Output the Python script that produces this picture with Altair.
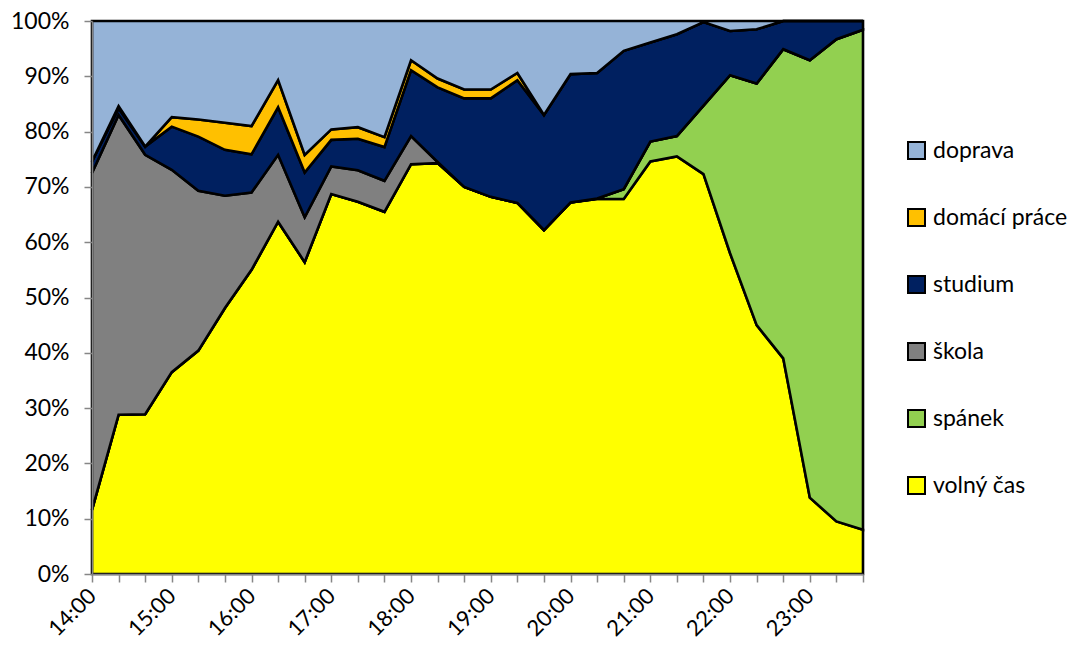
import altair as alt
import pandas as pd

times = ["14:00", "14:20", "14:40", "15:00", "15:20", "15:40", "16:00", "16:20", "16:40",
         "17:00", "17:20", "17:40", "18:00", "18:20", "18:40", "19:00", "19:20", "19:40",
         "20:00", "20:20", "20:40", "21:00", "21:20", "21:40", "22:00", "22:20", "22:40",
         "23:00", "23:20", "23:40"]

volny_cas = [11.6, 28.8, 28.9, 36.5, 40.4, 48.1, 55.0, 63.7, 56.4, 68.7, 67.3, 65.5, 74.1, 74.3, 70.0,
             68.2, 67.1, 62.2, 67.2, 67.8, 67.8, 74.6, 75.5, 72.3, 58.0, 45.0, 39.0, 13.8, 9.5, 8.0]
spanek = [0, 0, 0, 0, 0, 0, 0, 0, 0, 0, 0, 0, 0, 0, 0,
          0, 0, 0, 0, 0.1, 1.8, 3.6, 3.7, 12.4, 32.2, 43.7, 55.9, 79.1, 87.2, 90.4]
skola = [60.9, 54.2, 46.9, 36.6, 28.9, 20.3, 14.0, 12.1, 8.1, 5.0, 5.7, 5.6, 5.1, 0.2, 0,
         0, 0, 0, 0, 0, 0, 0, 0, 0, 0, 0, 0, 0, 0, 0]
studium = [2.1, 1.2, 1.5, 7.8, 9.8, 8.3, 6.9, 8.6, 8.1, 4.8, 5.7, 6.1, 11.9, 13.5, 16.0,
           17.8, 22.2, 20.8, 23.2, 22.7, 25.0, 17.9, 18.4, 15.1, 8.0, 9.8, 5.1, 7.1, 3.3, 1.6]
domaci_prace = [0, 0.4, 0, 1.7, 3.1, 4.9, 5.1, 4.9, 3.2, 1.9, 2.1, 1.8, 1.8, 1.6, 1.6,
                1.6, 1.3, 0, 0, 0, 0, 0, 0, 0, 0, 0, 0, 0, 0, 0]
doprava = [25.4, 15.4, 22.7, 17.4, 17.8, 18.4, 19.0, 10.7, 24.2, 19.6, 19.2, 21.0, 7.1, 10.4, 12.4,
           12.4, 9.4, 17.0, 9.6, 9.4, 5.4, 3.9, 2.4, 0.2, 1.8, 1.5, 0, 0, 0, 0]

series_names = ["volný čas", "spánek", "škola", "studium", "domácí práce", "doprava"]
series_values = [volny_cas, spanek, skola, studium, domaci_prace, doprava]
series_colors = ["#FFFF00", "#92D050", "#808080", "#002060", "#FFC000", "#95B3D7"]

rows = []
for k, (name, vals) in enumerate(zip(series_names, series_values)):
    for t, v in zip(times, vals):
        rows.append({"cas": t, "kategorie": name, "podil": v, "poradi": k})
df = pd.DataFrame(rows)

legend_order = list(reversed(series_names))
legend_colors = list(reversed(series_colors))

FONT = "Lato"

chart = alt.Chart(df).mark_area(
    stroke="black", strokeWidth=2.6, strokeJoin="miter"
).encode(
    x=alt.X("cas:O", sort=times, scale=alt.Scale(padding=0),
            axis=alt.Axis(title=None, labelAngle=-45,
                          labelExpr="slice(datum.label, -2) == '00' ? datum.label : ''",
                          labelFontSize=22, labelFont=FONT, labelColor="black",
                          tickSize=8, tickColor="#868686", domainColor="#868686",
                          domainWidth=1.5, tickWidth=1.5, labelPadding=3, labelOffset=-7,
                          labelAlign="right", labelBaseline="top", zindex=1,
                          grid=False)),
    y=alt.Y("podil:Q", stack="normalize",
            scale=alt.Scale(domain=[0, 1], nice=False),
            axis=alt.Axis(title=None, format=".0%", values=[i / 10 for i in range(11)],
                          labelFontSize=23, labelFont=FONT, labelColor="black",
                          tickSize=8, tickColor="#868686", domainColor="#868686",
                          domainWidth=1.5, tickWidth=1.5, labelPadding=15, zindex=1,
                          grid=False)),
    color=alt.Color("kategorie:N",
                    scale=alt.Scale(domain=legend_order, range=legend_colors),
                    legend=alt.Legend(title=None, orient="none", legendX=813, legendY=118,
                                      symbolType="square", symbolSize=289,
                                      symbolStrokeColor="black", symbolStrokeWidth=2,
                                      symbolOpacity=1,
                                      labelFontSize=23, labelFont=FONT, labelColor="black",
                                      labelOffset=5, rowPadding=42, labelLimit=200)),
    order=alt.Order("poradi:Q", sort="ascending"),
).properties(
    width=771, height=553,
    autosize=alt.AutoSizeParams(type="none"),
    padding={"left": 84, "top": 13, "right": 211, "bottom": 68},
).configure_view(stroke=None)

chart.save("out.html", embed_options={"renderer": "svg", "actions": False})
